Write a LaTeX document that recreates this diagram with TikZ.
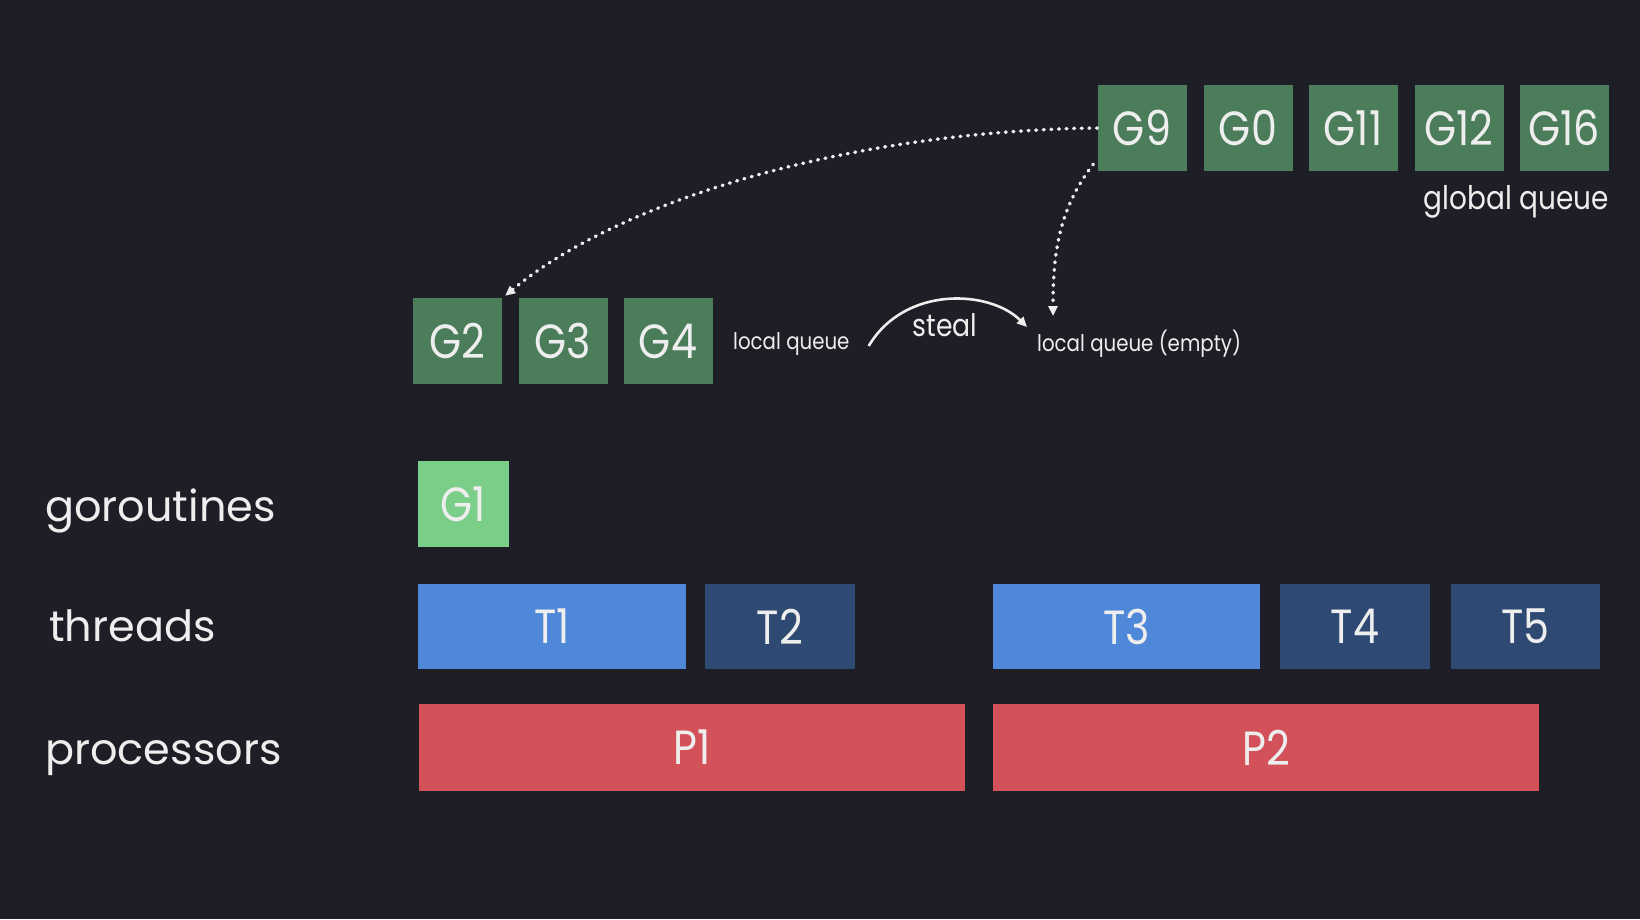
\documentclass[tikz,border=0pt]{standalone}
\usepackage{fontspec}
\setmainfont{Poppins}[FakeStretch=0.86]
\newfontfamily\labelfont{Poppins}
\usetikzlibrary{arrows.meta,calc}
\definecolor{bg}{HTML}{1D1E26}
\definecolor{ggreen}{HTML}{4B7D5A}
\definecolor{lgreen}{HTML}{7ACE88}
\definecolor{tblue}{HTML}{4F87D9}
\definecolor{tdark}{HTML}{2F4A72}
\definecolor{pred}{HTML}{D35159}
\definecolor{txt}{HTML}{EEEEEE}
\tikzset{
  box/.style={rectangle, inner sep=0pt, text=txt, font=\fontsize{48}{48}\selectfont},
  gbox/.style={box, fill=ggreen, minimum width=89pt, minimum height=86pt},
  g1box/.style={box, fill=lgreen, minimum width=91pt, minimum height=86pt},
  tbox/.style={box, minimum height=85pt},
  pbox/.style={box, fill=pred, minimum width=546pt, minimum height=87pt},
  rowlabel/.style={anchor=base west, inner sep=0pt, text=txt, font=\labelfont\fontsize{43}{43}\selectfont},
  small/.style={inner sep=0pt, text=txt, font=\fontsize{23}{23}\selectfont},
  dotarrow/.style={draw=txt, line width=3.5pt, line cap=round, dash pattern=on 0.8pt off 6.8pt, -{Triangle[length=10pt,width=9pt]}},
  stealarrow/.style={draw=txt, line width=2.6pt, -{Triangle[length=10pt,width=9pt]}}
}
\begin{document}
\begin{tikzpicture}[x=1pt,y=-1pt]
\fill[bg] (0,0) rectangle (1640,919);
\useasboundingbox (0,0) rectangle (1640,919);
% global queue
\node[gbox] (G9) at (1142,128) {G9};
\node[gbox] (G0) at (1248,128) {G0};
\node[gbox] (G11) at (1353,128) {G11};
\node[gbox] (G12) at (1459,128) {G12};
\node[gbox] (G16) at (1564,128) {G16};
\node[small, anchor=east, font=\fontsize{32.5}{32.5}\selectfont] (gq) at (1609,202) {global queue};
% local queue
\node[gbox] (G2) at (457,341) {G2};
\node[gbox] (G3) at (563,341) {G3};
\node[gbox] (G4) at (668,341) {G4};
\node[small, anchor=west] (lq) at (733,344) {local queue};
\node[small, font=\fontsize{31}{31}\selectfont] (steal) at (945,325) {steal};
\node[small, anchor=west] (lqe) at (1037,344) {local queue (empty)};
% rows
\node[rowlabel] (lg) at (45,521) {goroutines};
\node[rowlabel] (lt) at (49,641) {threads};
\node[rowlabel] (lp) at (45,764) {processors};
\node[g1box] (G1) at (463.5,504) {G1};
\node[tbox, fill=tblue, minimum width=268pt] (T1) at (552,626.5) {T1};
\node[tbox, fill=tdark, minimum width=150pt] (T2) at (780,626.5) {T2};
\node[tbox, fill=tblue, minimum width=267pt] (T3) at (1126.5,626.5) {T3};
\node[tbox, fill=tdark, minimum width=150pt] (T4) at (1355,626.5) {T4};
\node[tbox, fill=tdark, minimum width=149pt] (T5) at (1525.5,626.5) {T5};
\node[pbox] (P1) at (692,747.5) {P1};
\node[pbox] (P2) at (1266,747.5) {P2};
% arrows
\coordinate (a1end) at ($(G2.north east)+(3.5,-2)$);
\draw[dotarrow] (G9.west) .. controls (850,131) and (620,200) .. (a1end);
\coordinate (a2start) at ($(G9.south west)+(-4,-7)$);
\coordinate (a2end) at ($(lqe.west)+(16,-28)$);
\draw[dotarrow] (a2start) .. controls (1058,210) and (1053,255) .. (a2end);
\coordinate (s1) at ($(lq.east)+(19,2)$);
\coordinate (s2) at ($(lqe.west)+(-10,-17)$);
\draw[stealarrow] (s1) .. controls (905,285) and (990,290) .. (s2);
\end{tikzpicture}
\end{document}
